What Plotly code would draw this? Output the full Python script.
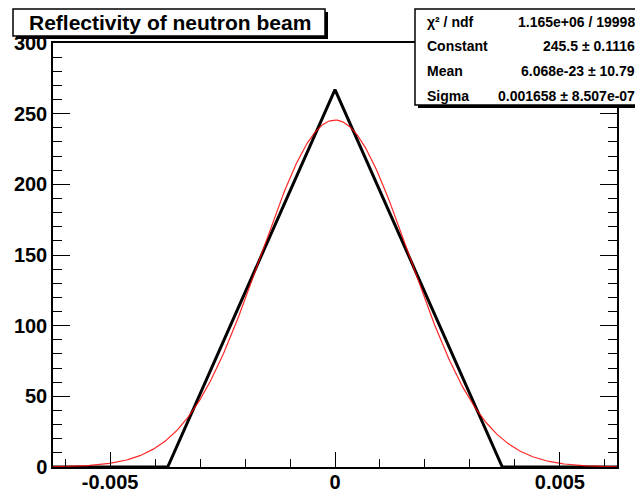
import numpy as np
import plotly.graph_objects as go

# ---- data ----
hist_x = [-0.00627, -0.00372, 0.0, 0.00372, 0.00627]
hist_y = [0, 0, 267, 0, 0]

fit_constant = 245.5
fit_mean = 6.068e-23
fit_sigma = 0.001658

stat_names = ["χ² / ndf", "Constant", "Mean", "Sigma"]
stat_values = ["1.165e+06 / 19998", "245.5 ± 0.1116", "6.068e-23 ± 10.79", "0.001658 ± 8.507e-07"]

title_text = "Reflectivity of neutron beam"
x_range = [-0.00627, 0.00627]
y_range = [0, 300]

fit_x = np.linspace(x_range[0], x_range[1], 400)
fit_y = fit_constant * np.exp(-0.5 * ((fit_x - fit_mean) / fit_sigma) ** 2)

# page body has an 8px margin: work in window pixels and shift
OFF = 8
W, H = 643 - OFF, 493 - OFF
L, R, T, B = 53 - OFF, 617 - OFF, 43 - OFF, 467 - OFF
pw, ph = R - L, B - T

def px(x):
    return (x - OFF - L) / pw

def py(y):
    return (B - (y - OFF)) / ph

fig = go.Figure()
fig.add_trace(go.Scatter(x=hist_x, y=hist_y, mode="lines",
                         line=dict(color="black", width=3), hoverinfo="skip"))
fig.add_trace(go.Scatter(x=fit_x, y=fit_y, mode="lines",
                         line=dict(color="rgba(255,0,0,0.85)", width=1.2), hoverinfo="skip"))

font_family = "Liberation Sans, Arial, sans-serif"

fig.update_xaxes(range=x_range, showgrid=False, zeroline=False, automargin=False,
                 showline=True, linecolor="black", linewidth=1.5, mirror=True,
                 ticks="inside", ticklen=15, tickwidth=1.3, tickcolor="black",
                 tickvals=[-0.005, 0, 0.005], ticktext=["-0.005", "0", "0.005"],
                 ticklabelstandoff=-4,
                 minor=dict(ticks="inside", ticklen=8, tickwidth=1.3, tickcolor="black", dtick=0.001, tick0=0),
                 tickfont=dict(family=font_family, size=20, color="black", weight="bold"))
fig.update_yaxes(range=y_range, showgrid=False, zeroline=False, automargin=False,
                 showline=True, linecolor="black", linewidth=1.5, mirror="ticks",
                 ticks="inside", ticklen=17, tickwidth=1.3, tickcolor="black",
                 dtick=50, tick0=0,
                 minor=dict(ticks="inside", ticklen=9, tickwidth=1.3, tickcolor="black", dtick=10, tick0=0),
                 tickfont=dict(family=font_family, size=20, color="black", weight="bold"))

shapes = []
annotations = []

# title box with shadow
tx0, ty0, tx1, ty1 = 13, 9, 325, 36
shapes.append(dict(type="rect", xref="paper", yref="paper", layer="above",
                   x0=px(tx0 + 3), x1=px(tx1 + 3), y0=py(ty1 + 3), y1=py(ty0 + 3),
                   fillcolor="black", line=dict(width=0)))
shapes.append(dict(type="rect", xref="paper", yref="paper", layer="above",
                   x0=px(tx0), x1=px(tx1), y0=py(ty1), y1=py(ty0),
                   fillcolor="white", line=dict(color="black", width=1.5)))
annotations.append(dict(xref="paper", yref="paper", x=px((tx0 + tx1) / 2 + 1), y=py((ty0 + ty1) / 2 + 0.5),
                        text=title_text, showarrow=False, xanchor="center", yanchor="middle",
                        font=dict(family=font_family, size=21, color="black", weight="bold")))

# stats box with shadow
sx0, sy0, sx1, sy1 = 415, 9, 646, 105
shapes.append(dict(type="rect", xref="paper", yref="paper", layer="above",
                   x0=px(sx0 + 3), x1=px(sx1 + 3), y0=py(sy1 + 3), y1=py(sy0 + 3),
                   fillcolor="black", line=dict(width=0)))
shapes.append(dict(type="rect", xref="paper", yref="paper", layer="above",
                   x0=px(sx0), x1=px(sx1), y0=py(sy1), y1=py(sy0),
                   fillcolor="white", line=dict(color="black", width=1.5)))
row_y = [21.5, 45.5, 71, 96]
for name, val, ry in zip(stat_names, stat_values, row_y):
    annotations.append(dict(xref="paper", yref="paper", x=px(425), y=py(ry),
                            text=name, showarrow=False, xanchor="left", yanchor="middle",
                            font=dict(family=font_family, size=14, color="black", weight="bold")))
    annotations.append(dict(xref="paper", yref="paper", x=px(637), y=py(ry),
                            text=val, showarrow=False, xanchor="right", yanchor="middle",
                            font=dict(family=font_family, size=14, color="black", weight="bold")))

fig.update_layout(width=W, height=H, margin=dict(l=L, r=W - R, t=T, b=H - B, pad=0, autoexpand=False),
                  paper_bgcolor="white", plot_bgcolor="white", showlegend=False,
                  shapes=shapes, annotations=annotations)

fig.write_html("out.html")
